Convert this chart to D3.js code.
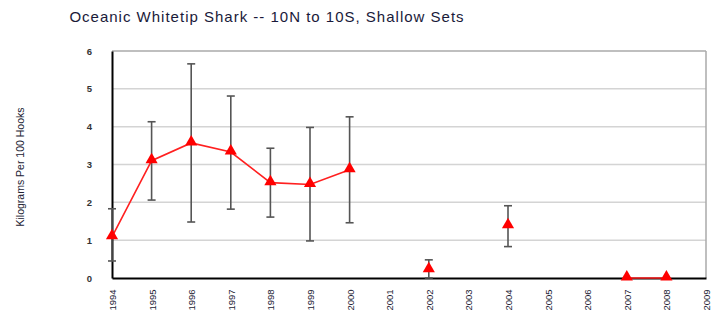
<!DOCTYPE html>
<html>
<head>
<meta charset="utf-8">
<script src="https://cdn.jsdelivr.net/npm/d3@7"></script>
<style>
  body { margin: 0; background: #fff; }
  svg { display: block; font-family: "Liberation Sans", Arial, sans-serif; }
</style>
</head>
<body>
<svg id="chart" width="714" height="316"></svg>
<script>
// catch rate by year, kg per 100 hooks; null = no shallow sets that year
const years = ['1994','1995','1996','1997','1998','1999','2000','2001','2002','2003','2004','2005','2006','2007','2008','2009'];
const cpue  = [1.09, 3.10, 3.57, 3.33, 2.52, 2.47, 2.86, null, 0.22, null, 1.38, null, null, 0, 0, null];
const upper = [1.83, 4.13, 5.66, 4.81, 3.43, 3.98, 4.26, null, 0.48, null, 1.91, null, null, null, null, null];
const lower = [0.45, 2.06, 1.48, 1.82, 1.61, 0.98, 1.46, null, 0.00, null, 0.83, null, null, null, null, null];
const yTicks = [0, 1, 2, 3, 4, 5, 6];

const svg = d3.select('#chart');
const plotL = 112, plotR = 706, plotT = 51, plotB = 278;

const x = d3.scalePoint().domain(years).range([plotL, plotR]);
const y = d3.scaleLinear().domain([0, 6]).range([plotB, plotT]);

const rows = years.map((yr, i) => ({ yr, v: cpue[i], hi: upper[i], lo: lower[i] }));

// title
svg.append('text')
  .attr('x', 267).attr('y', 22)
  .attr('text-anchor', 'middle')
  .attr('font-size', 15).attr('letter-spacing', 1)
  .attr('fill', '#1a1a3a')
  .text('Oceanic Whitetip Shark -- 10N to 10S, Shallow Sets');

// gridlines
svg.append('g').selectAll('line')
  .data(yTicks.filter(d => d > 0 && d < 6))
  .join('line')
  .attr('x1', plotL).attr('x2', plotR)
  .attr('y1', d => y(d)).attr('y2', d => y(d))
  .attr('stroke', '#d4d4d4').attr('stroke-width', 1.5);

// frame: top & right gray, left & bottom black
svg.append('line').attr('x1', plotL).attr('x2', plotR).attr('y1', plotT).attr('y2', plotT)
  .attr('stroke', '#aaa').attr('stroke-width', 1.5);
svg.append('line').attr('x1', plotR).attr('x2', plotR).attr('y1', plotT).attr('y2', plotB)
  .attr('stroke', '#aaa').attr('stroke-width', 1.5);

// y axis
const yAxis = svg.append('g')
  .attr('transform', `translate(${plotL},0)`)
  .call(d3.axisLeft(y).tickValues(yTicks).tickSize(0).tickPadding(20).tickFormat(d3.format('d')));
yAxis.select('.domain').attr('stroke', '#000').attr('stroke-width', 2);
yAxis.selectAll('text').attr('font-size', 9.5).attr('font-weight', 'bold').attr('fill', '#333');

// x axis
const xAxis = svg.append('g')
  .attr('transform', `translate(0,${plotB})`)
  .call(d3.axisBottom(x).tickSize(0).tickPadding(0));
xAxis.select('.domain').attr('stroke', '#000').attr('stroke-width', 2);
xAxis.selectAll('text')
  .attr('font-size', 9.5).attr('fill', '#223')
  .attr('text-anchor', 'middle').attr('dy', null)
  .attr('transform', 'translate(0,22) rotate(-90)')
  .attr('dominant-baseline', 'central');

// y label
svg.append('text')
  .attr('transform', 'translate(20,167) rotate(-90)')
  .attr('text-anchor', 'middle')
  .attr('dominant-baseline', 'central')
  .attr('font-size', 10.5).attr('fill', '#223')
  .text('Kilograms Per 100 Hooks');

// error bars
const eb = svg.append('g').selectAll('g')
  .data(rows.filter(d => d.hi != null))
  .join('g')
  .attr('stroke', '#555').attr('stroke-width', 1.6);
eb.append('line')
  .attr('x1', d => x(d.yr)).attr('x2', d => x(d.yr))
  .attr('y1', d => y(d.hi)).attr('y2', d => y(d.lo));
eb.append('line')
  .attr('x1', d => x(d.yr) - 4).attr('x2', d => x(d.yr) + 4)
  .attr('y1', d => y(d.hi)).attr('y2', d => y(d.hi));
eb.append('line')
  .attr('x1', d => x(d.yr) - 4).attr('x2', d => x(d.yr) + 4)
  .attr('y1', d => y(d.lo)).attr('y2', d => y(d.lo));

// series line, broken at missing years
const line = d3.line()
  .defined(d => d.v != null)
  .x(d => x(d.yr)).y(d => y(d.v));
svg.append('path')
  .datum(rows)
  .attr('d', line)
  .attr('fill', 'none')
  .attr('stroke', '#ff2020').attr('stroke-width', 1.6);

// triangle markers
const tri = d3.symbol().type(d3.symbolTriangle).size(64);
svg.append('g').selectAll('path')
  .data(rows.filter(d => d.v != null))
  .join('path')
  .attr('d', tri)
  .attr('transform', d => `translate(${x(d.yr)},${y(d.v) - 1})`)
  .attr('fill', '#ff0000');
</script>
</body>
</html>
